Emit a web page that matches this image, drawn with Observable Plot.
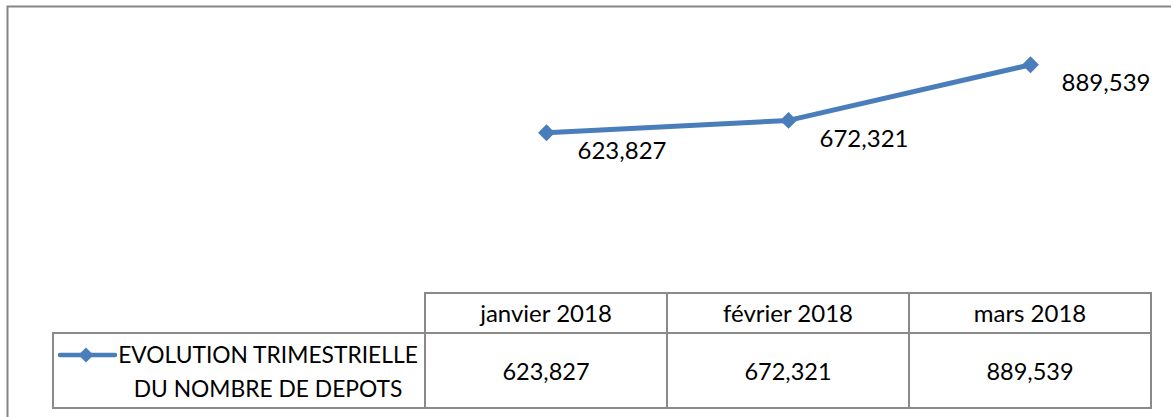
<!DOCTYPE html>
<html><head><meta charset="utf-8">
<script src="https://cdn.jsdelivr.net/npm/d3@7"></script>
<script src="https://cdn.jsdelivr.net/npm/@observablehq/plot@0.6"></script>
<style>body{margin:0;background:#fff} svg{display:block}</style>
</head><body><div id="chart"></div>
<script>
const months = ["janvier 2018", "février 2018", "mars 2018"];
const depots = [623827, 672321, 889539];
const seriesName = ["EVOLUTION TRIMESTRIELLE", "DU NOMBRE DE DEPOTS"];

const data = months.map((m, i) => ({month: m, value: depots[i]}));
const fmt = d3.format(",");
const blue = "#4a7ebb", grid = "#8a8a8a";
const font = "Lato, 'Open Sans', sans-serif";

function tableMark(index, scales) {
  const x = scales.x, y = scales.y;
  const bw = x.bandwidth ? x.bandwidth() : 242;
  const left = x(months[0]), right = x(months[months.length - 1]) + bw;
  const top = y(0) + 1, mid = top + 40, bottom = mid + 75, legendLeft = 53;
  const g = d3.create("svg:g").attr("font-family", font);
  g.append("path").attr("fill", "none").attr("stroke", grid).attr("stroke-width", 2)
    .attr("d", `M${left},${bottom}V${top}H${right}V${bottom}H${legendLeft}V${mid}H${right}` +
      months.slice(1).map(m => `M${x(m)},${top}V${bottom}`).join(""));
  g.selectAll("text.h").data(months).join("text")
    .attr("x", m => x(m) + bw / 2).attr("y", (top + mid) / 2 + 1).attr("dy", "0.35em")
    .attr("text-anchor", "middle").attr("font-size", 24).attr("fill", "#000").text(m => m);
  g.selectAll("text.v").data(data).join("text")
    .attr("x", d => x(d.month) + bw / 2).attr("y", (mid + bottom) / 2 + 1).attr("dy", "0.35em")
    .attr("text-anchor", "middle").attr("font-size", 23.5).attr("fill", "#000").text(d => fmt(d.value));
  // legend
  const ly = mid + 22;
  g.append("path").attr("stroke", blue).attr("stroke-width", 4.5).attr("stroke-linecap", "round")
    .attr("d", `M${legendLeft + 7},${ly}H${legendLeft + 62}`);
  g.append("path").attr("fill", blue)
    .attr("d", d3.symbol(d3.symbolDiamond2, 145)()).attr("transform", `translate(${legendLeft + 33},${ly})`);
  g.selectAll("text.l").data(seriesName).join("text")
    .attr("x", legendLeft + 215).attr("y", (d, i) => mid + 30 + i * 34)
    .attr("text-anchor", "middle").attr("font-size", 22.8).attr("fill", "#000").text(d => d);
  return g.node();
}

const chart = Plot.plot({
  width: 1171,
  height: 417,
  margin: 0,
  style: {fontFamily: font, background: "#fff"},
  x: {type: "band", domain: months, range: [425, 1151], padding: 0, axis: null},
  y: {domain: [0, 1000000], range: [292, 36], axis: null},
  marks: [
    Plot.frame({stroke: "#868686", strokeWidth: 2, insetTop: 6, insetLeft: 7, insetRight: -20, insetBottom: -20}),
    Plot.line(data, {x: "month", y: "value", stroke: blue, strokeWidth: 5}),
    Plot.dot(data, {x: "month", y: "value", symbol: "diamond2", r: 7.6, fill: blue, stroke: "none"}),
    Plot.text(data, {x: "month", y: "value", text: d => fmt(d.value), textAnchor: "start", dx: 31, dy: 19, fontSize: 24, fill: "#000"}),
    tableMark
  ]
});
document.getElementById("chart").append(chart);
</script>
</body></html>
